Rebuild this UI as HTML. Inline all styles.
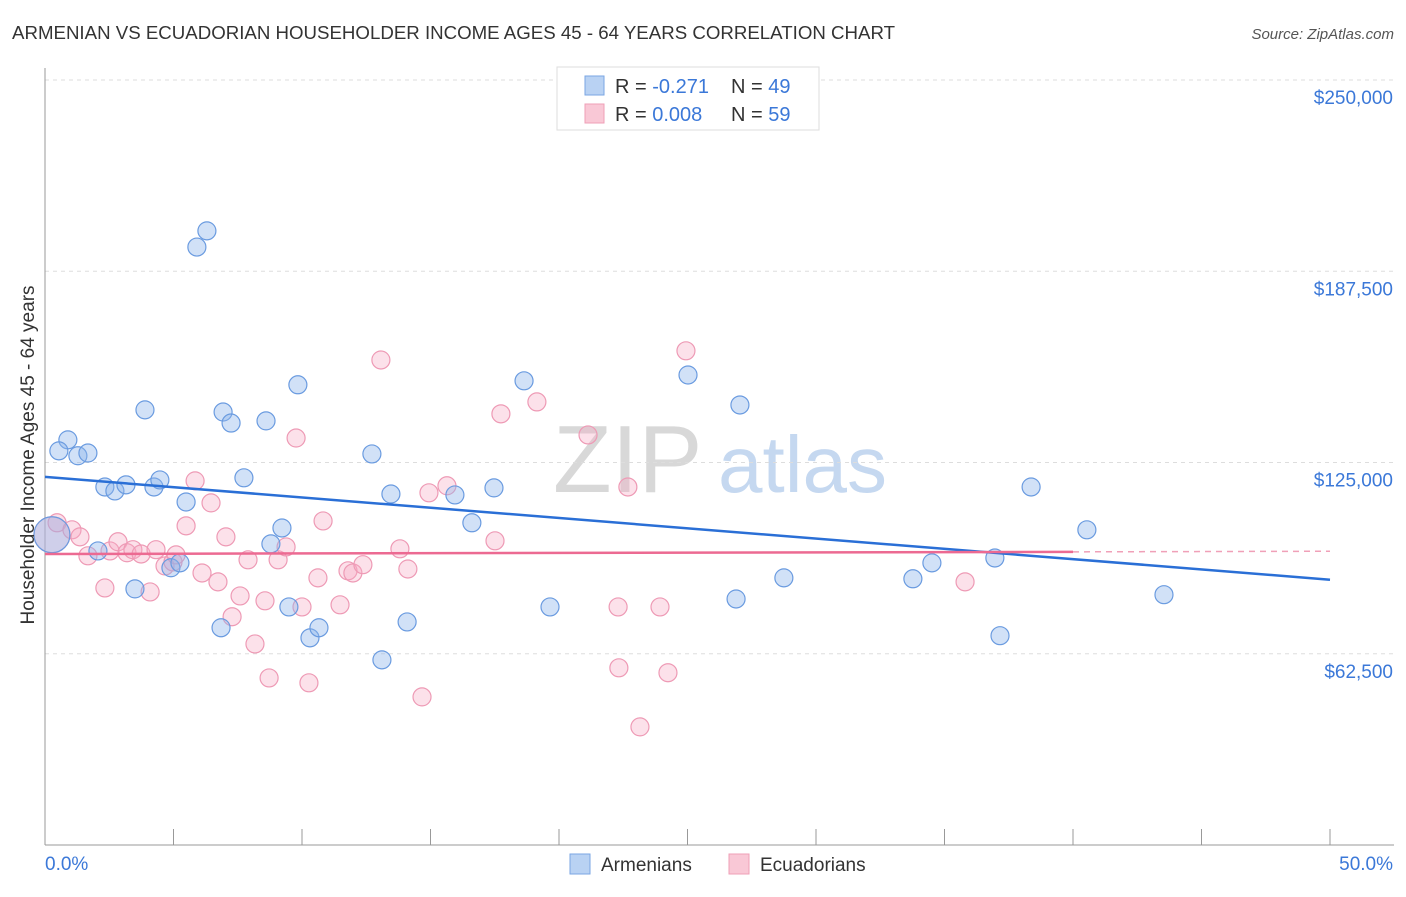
<!DOCTYPE html>
<html><head><meta charset="utf-8"><style>
body{margin:0;background:#fff;font-family:"Liberation Sans",sans-serif;}
svg text{font-family:"Liberation Sans",sans-serif;}
</style></head><body>
<svg width="1406" height="892" xmlns="http://www.w3.org/2000/svg">
<text x="12" y="39" font-size="18" fill="#333" textLength="883" lengthAdjust="spacingAndGlyphs">ARMENIAN VS ECUADORIAN HOUSEHOLDER INCOME AGES 45 - 64 YEARS CORRELATION CHART</text>
<text x="1394" y="39" font-size="15" fill="#555" text-anchor="end" font-style="italic">Source: ZipAtlas.com</text>
<g>
<text x="553" y="492" font-size="96" fill="#d8d8d8" font-family="Liberation Serif, serif">ZIP</text>
<text x="718" y="492" font-size="80" fill="#c5d8f0">atlas</text>
</g>
<g id="grid"></g>
<g id="axes"></g>
<g id="marks"></g>
<g>
<rect x="557" y="67" width="262" height="63" fill="#fff" stroke="#ddd"/>
<rect x="585" y="76" width="19" height="19" fill="#b9d2f3" stroke="#7aa6e3"/>
<rect x="585" y="104" width="19" height="19" fill="#f9c8d6" stroke="#ef9fb7"/>
<text x="615" y="93" font-size="20" fill="#333">R = <tspan fill="#3b78d8">-0.271</tspan></text>
<text x="731" y="93" font-size="20" fill="#333">N = <tspan fill="#3b78d8">49</tspan></text>
<text x="615" y="121" font-size="20" fill="#333">R = <tspan fill="#3b78d8">0.008</tspan></text>
<text x="731" y="121" font-size="20" fill="#333">N = <tspan fill="#3b78d8">59</tspan></text>
</g>
<g>
<rect x="570" y="854" width="20" height="20" fill="#b9d2f3" stroke="#7aa6e3"/>
<text x="601" y="871" font-size="19" fill="#333">Armenians</text>
<rect x="729" y="854" width="20" height="20" fill="#f9c8d6" stroke="#ef9fb7"/>
<text x="760" y="871" font-size="19" fill="#333">Ecuadorians</text>
</g>
<text transform="translate(34,455) rotate(-90)" font-size="19" fill="#333" text-anchor="middle">Householder Income Ages 45 - 64 years</text>
</svg>
<script>
const yTicks=[62500,125000,187500,250000];
const yTickLabels=["$62,500","$125,000","$187,500","$250,000"];
const xTickLabels=["0.0%","50.0%"];
const blueX=[0.27,0.89,0.54,1.28,1.67,2.06,2.33,2.72,3.15,3.50,3.89,4.24,4.47,4.90,5.25,5.49,5.91,6.30,6.85,6.93,7.24,7.74,8.60,8.79,9.22,9.49,9.84,10.31,10.66,12.72,13.11,13.46,14.09,15.95,16.61,17.47,18.64,19.65,25.02,26.89,27.04,28.75,33.77,34.51,36.96,37.16,38.37,40.54,43.54];
const blueY=[101.4,132.4,128.8,127.2,128.1,96.1,117.0,115.7,117.7,83.7,142.2,117.0,119.3,90.6,92.2,112.1,195.4,200.7,71.0,141.5,137.9,120.0,138.6,98.4,103.6,77.8,150.4,67.7,71.0,127.8,60.5,114.7,72.9,114.4,105.3,116.7,151.7,77.8,153.6,80.4,143.8,87.3,87.0,92.2,93.8,68.4,117.0,103.0,81.8];
const pinkX=[0.27,0.47,1.05,1.36,1.67,2.33,2.53,2.84,3.19,3.42,3.74,4.09,4.32,4.67,4.98,5.10,5.49,5.84,6.11,6.46,6.73,7.04,7.28,7.59,7.90,8.17,8.56,8.72,9.07,9.38,9.77,10.00,10.27,10.62,10.82,11.48,11.79,11.98,12.37,13.07,13.81,14.12,14.67,14.94,15.64,17.51,17.74,19.14,21.13,22.30,22.33,22.68,23.15,23.93,24.24,24.94,35.80];
const pinkY=[101.4,105.3,103.0,100.7,94.5,84.0,96.1,99.1,95.5,96.5,95.1,82.7,96.5,91.2,92.5,94.8,104.3,119.0,88.9,111.8,86.0,100.7,74.6,81.4,93.2,65.7,79.8,54.6,93.2,97.4,133.0,77.8,53.0,87.3,105.9,78.5,89.6,88.9,91.6,158.5,96.8,90.2,48.4,115.1,117.4,99.4,140.9,144.8,134.0,77.8,57.9,117.0,38.6,77.8,56.3,161.5,86.0];
const blueTrendX=[0,50], blueTrendY=[120.3,86.7];
const pinkTrendX=[0,40,50], pinkTrendY=[95.1,95.8,96.0];

const NS="http://www.w3.org/2000/svg";
const X0=45,X1=1330,YT=80,YB=845;
function xs(p){return X0+(p/50)*(X1-X0);}
function ys(k){return YB-(k*1000/250000)*(YB-YT);}
function mk(tag,attrs,parent){const e=document.createElementNS(NS,tag);for(const k in attrs)e.setAttribute(k,attrs[k]);document.getElementById(parent).appendChild(e);return e;}

yTicks.forEach((v,i)=>{
  const y=ys(v/1000);
  const l=mk('line',{x1:X0,x2:1394,y1:y,y2:y,stroke:'#ddd','stroke-dasharray':'4,4'},'grid');
  
  
  const t=mk('text',{x:1393,y:y+24,'text-anchor':'end','font-size':19,fill:'#3b78d8'},'grid');
  t.textContent=yTickLabels[i];
  
  
});
let a=mk('line',{x1:X0,x2:X0,y1:68,y2:YB,stroke:'#999'},'axes');


a=mk('line',{x1:X0,x2:1394,y1:YB,y2:YB,stroke:'#999'},'axes');


for(let i=0;i<=10;i++){
  const x=xs(i*5);
  const t=mk('line',{x1:x,x2:x,y1:YB,y2:YB-16,stroke:'#999'},'axes');
  
  
}
[0,50].forEach((p,i)=>{
  const t=mk('text',{x:i?1393:45,y:870,'text-anchor':i?'end':'start','font-size':19,fill:'#3b78d8'},'axes');
  t.textContent=xTickLabels[i];
  
  
});
function pts(X,Y,fill,stroke,name){
  X.forEach((p,i)=>{
    const c=mk('circle',{cx:xs(p),cy:ys(Y[i]),r:i===0?18:9,fill:fill,stroke:stroke,'stroke-width':1.2},'marks');
    
    
  });
}
pts(pinkX,pinkY,'rgba(246,170,195,0.35)','#ee9ab5','ecuadorian-point');
pts(blueX,blueY,'rgba(140,180,235,0.4)','#6a9be0','armenian-point');
let ln=mk('line',{x1:xs(blueTrendX[0]),y1:ys(blueTrendY[0]),x2:xs(blueTrendX[1]),y2:ys(blueTrendY[1]),stroke:'#2a6fd6','stroke-width':2.5},'marks');


ln=mk('line',{x1:xs(pinkTrendX[0]),y1:ys(pinkTrendY[0]),x2:xs(pinkTrendX[1]),y2:ys(pinkTrendY[1]),stroke:'#ec6a92','stroke-width':2.5},'marks');


ln=mk('line',{x1:xs(pinkTrendX[1]),y1:ys(pinkTrendY[1]),x2:xs(pinkTrendX[2]),y2:ys(pinkTrendY[2]),stroke:'#f0a0b8','stroke-width':1.5,'stroke-dasharray':'6,5'},'marks');


</script>
</body></html>
